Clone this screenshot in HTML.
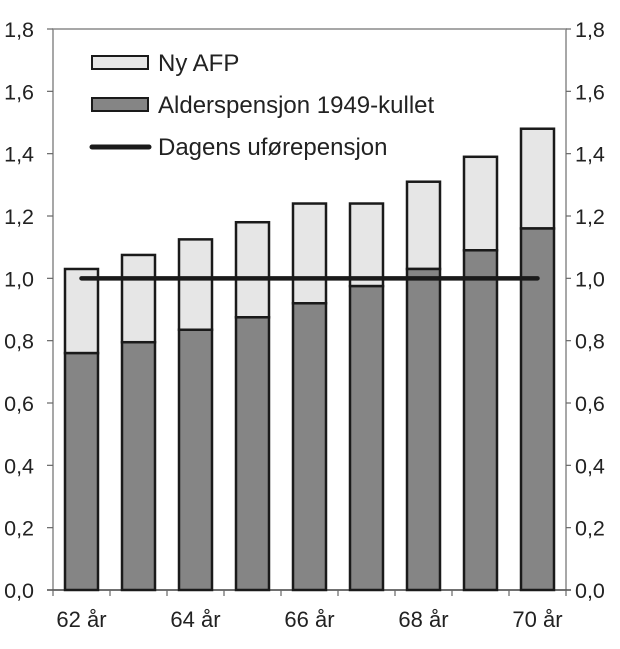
<!DOCTYPE html>
<html><head><meta charset="utf-8"><style>
body{margin:0;background:#fff}
svg{display:block;font-family:"Liberation Sans",sans-serif}
</style></head><body>
<svg id="chart" width="620" height="649"></svg>
<script>
const categories=["62 år","63 år","64 år","65 år","66 år","67 år","68 år","69 år","70 år"];
const xTickLabels=["62 år","","64 år","","66 år","","68 år","","70 år"];
const alderspensjon=[0.76,0.795,0.835,0.875,0.92,0.975,1.03,1.09,1.16];
const totalMedAfp=[1.03,1.075,1.125,1.18,1.24,1.24,1.31,1.39,1.48];
const uforepensjon=[1.0,1.0,1.0,1.0,1.0,1.0,1.0,1.0,1.0];
const yTicks=[0,0.2,0.4,0.6,0.8,1.0,1.2,1.4,1.6,1.8];

const NS="http://www.w3.org/2000/svg";
const svg=document.getElementById('chart');
const L=53,R=566,T=29,B=590,yMax=1.8;
const n=categories.length,step=(R-L)/n,bw=33;
function y(v){return B-(v/yMax)*(B-T);}
function xc(i){return L+step*(i+0.5);}
function mk(tag,attrs,parent){const e=document.createElementNS(NS,tag);for(const k in attrs)e.setAttribute(k,attrs[k]);(parent||svg).appendChild(e);return e;}
function fmt(v){return v.toFixed(1).replace('.',',');}

const frame=mk('rect',{x:L,y:T,width:R-L,height:B-T,fill:'none',stroke:'#8a8a8a','stroke-width':1.5});



yTicks.forEach(v=>{
  const t1=mk('line',{x1:L-6,x2:L,y1:y(v),y2:y(v),stroke:'#666','stroke-width':1.2});
  
  
  const t2=mk('line',{x1:R,x2:R+5,y1:y(v),y2:y(v),stroke:'#666','stroke-width':1.2});
  
  
  const a=mk('text',{x:34,y:y(v)+8,'text-anchor':'end','font-size':21.5,fill:'#222'});a.textContent=fmt(v);
  
  
  const b=mk('text',{x:575,y:y(v)+8,'font-size':21.5,fill:'#222'});b.textContent=fmt(v);
  
  
});
const xa=mk('line',{x1:L-6,x2:R+5,y1:B,y2:B,stroke:'#555','stroke-width':1.5});


for(let i=0;i<=n;i++){
  const t=mk('line',{x1:L+step*i,x2:L+step*i,y1:B,y2:B+6,stroke:'#666','stroke-width':1.2});
  
  
}
categories.forEach((c,i)=>{
  const top=mk('rect',{x:xc(i)-bw/2,y:y(totalMedAfp[i]),width:bw,height:y(alderspensjon[i])-y(totalMedAfp[i]),fill:'#e6e6e6',stroke:'#1a1a1a','stroke-width':2.5});
  
  
  const bot=mk('rect',{x:xc(i)-bw/2,y:y(alderspensjon[i]),width:bw,height:B-y(alderspensjon[i]),fill:'#858585',stroke:'#1a1a1a','stroke-width':2.5});
  
  
  if(xTickLabels[i]){
    const l=mk('text',{x:xc(i),y:627,'text-anchor':'middle','font-size':22,fill:'#222'});l.textContent=xTickLabels[i];
    
    
  }
});
const pts=uforepensjon.map((v,i)=>xc(i)+','+y(v)).join(' ');
const line=mk('polyline',{points:pts,fill:'none',stroke:'#1a1a1a','stroke-width':4.5,'stroke-linecap':'round'});



const lg=mk('g',{});


const r1=mk('rect',{x:92,y:56,width:56,height:13,fill:'#e6e6e6',stroke:'#1a1a1a','stroke-width':2},lg);


const r2=mk('rect',{x:92,y:98,width:56,height:13,fill:'#858585',stroke:'#1a1a1a','stroke-width':2},lg);


const r3=mk('line',{x1:92,x2:149,y1:147,y2:147,stroke:'#1a1a1a','stroke-width':5,'stroke-linecap':'round'},lg);


[["Ny AFP",71],["Alderspensjon 1949-kullet",113],["Dagens uførepensjon",155]].forEach(([t,yy])=>{
  const e=mk('text',{x:158,y:yy,'font-size':24,fill:'#222'},lg);e.textContent=t;
  
  
});
</script>
</body></html>
